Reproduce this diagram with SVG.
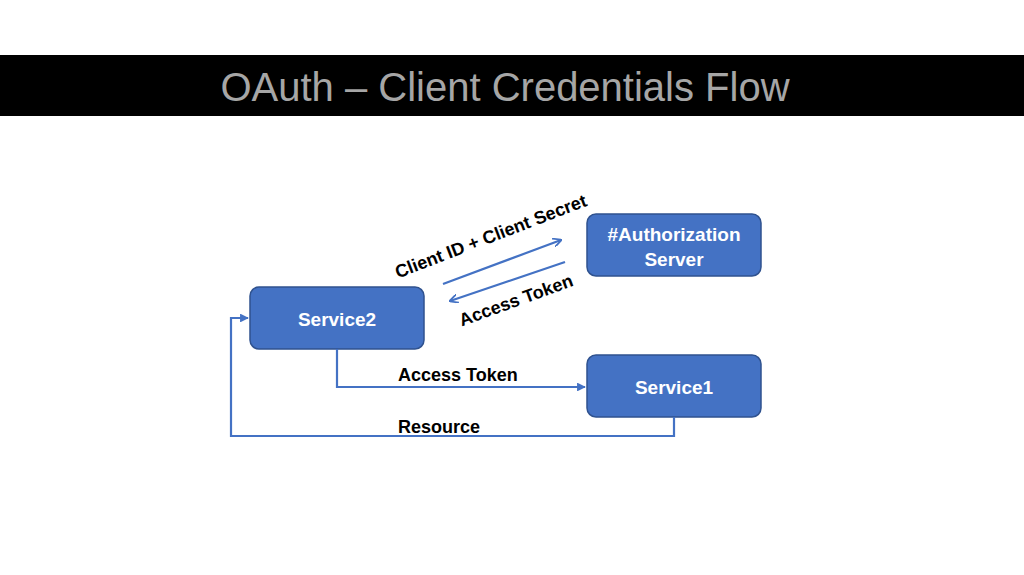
<svg xmlns="http://www.w3.org/2000/svg" width="1024" height="575" viewBox="0 0 1024 575">
<style>
.box{fill:#4472c4;stroke:#2f528f;stroke-width:1.5}
.nt{font-family:"Liberation Sans",Arial,sans-serif;font-weight:bold;font-size:19px;fill:#fff;text-anchor:middle}
.lb{font-family:"Liberation Sans",Arial,sans-serif;font-weight:bold;font-size:18px;fill:#000}
.ln{fill:none;stroke:#4472c4;stroke-width:2.2}
</style>
<defs><marker id="a" viewBox="0 0 10 10" refX="9" refY="5" markerWidth="4" markerHeight="4" orient="auto"><path d="M0,0L10,5L0,10" fill="none" stroke="#4472c4" stroke-width="2"/></marker>
<marker id="t" viewBox="0 0 10 10" refX="9" refY="5" markerWidth="4" markerHeight="4" orient="auto"><path d="M0,0L10,5L0,10z" fill="#4472c4"/></marker></defs>
<rect width="1024" height="575" fill="#fff"/>
<rect x="0" y="55" width="1024" height="61" fill="#000"/>
<text x="505" y="101" font-family="Liberation Sans,Arial,sans-serif" font-size="40" fill="#a6a6a6" text-anchor="middle">OAuth – Client Credentials Flow</text>
<g id="service2"><rect class="box" x="250" y="287" width="174" height="62" rx="9"/><text class="nt" x="337" y="326">Service2</text></g>
<g id="auth"><rect class="box" x="587" y="214" width="174" height="62" rx="9"/><text class="nt" x="674" y="241">#Authorization</text><text class="nt" x="674" y="266">Server</text></g>
<g id="service1"><rect class="box" x="587" y="355" width="174" height="62" rx="9"/><text class="nt" x="674" y="394">Service1</text></g>
<g id="connectors">
<line class="ln" x1="443" y1="284" x2="561" y2="240" marker-end="url(#a)"/>
<line class="ln" x1="565" y1="262" x2="450" y2="301" marker-end="url(#a)"/>
<path class="ln" d="M337,349V387H585" marker-end="url(#t)"/>
<path class="ln" d="M674,417V436H231V318H248" marker-end="url(#t)"/>
<text class="lb" transform="translate(493,242) rotate(-21)" text-anchor="middle">Client ID + Client Secret</text>
<text class="lb" transform="translate(518,306) rotate(-20)" text-anchor="middle">Access Token</text>
<text class="lb" x="398" y="381">Access Token</text>
<text class="lb" x="398" y="433">Resource</text>
</g>
</svg>
